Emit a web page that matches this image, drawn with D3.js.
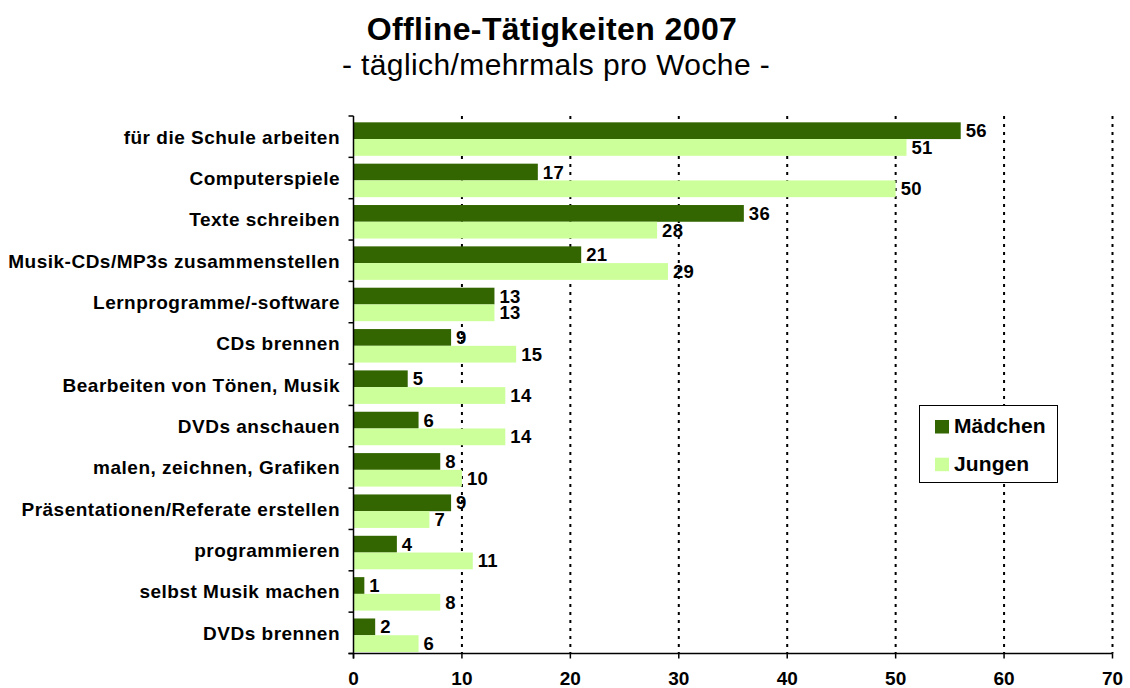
<!DOCTYPE html>
<html><head><meta charset="utf-8">
<script src="https://cdn.jsdelivr.net/npm/d3@7"></script>
<style>body{margin:0;background:#fff;} svg{display:block;font-family:"Liberation Sans",Arial,sans-serif;}</style>
</head><body>
<svg id="c" width="1130" height="688"></svg>
<script>
const categories = ["für die Schule arbeiten","Computerspiele","Texte schreiben","Musik-CDs/MP3s zusammenstellen","Lernprogramme/-software","CDs brennen","Bearbeiten von Tönen, Musik","DVDs anschauen","malen, zeichnen, Grafiken","Präsentationen/Referate erstellen","programmieren","selbst Musik machen","DVDs brennen"];
const maedchen = [56,17,36,21,13,9,5,6,8,9,4,1,2];
const jungen = [51,50,28,29,13,15,14,14,10,7,11,8,6];
const seriesNames = ["Mädchen","Jungen"];
const xTicks = [0,10,20,30,40,50,60,70];
const colors = ["#336600","#CCFF99"];

const svg = d3.select("#c");
const L = 353.5, R = 1112.5, T = 116, B = 653.5;
const x = d3.scaleLinear().domain([0,70]).range([L,R]);
const y = d3.scaleBand().domain(categories).range([T,B]);
const bw = y.bandwidth();
const barH = bw*0.405, off = bw*0.153;

// gridlines
svg.append("g").selectAll("line").data(xTicks.filter(d=>d>0)).join("line")
  .attr("x1",d=>x(d)).attr("x2",d=>x(d)).attr("y1",T).attr("y2",B)
  .attr("stroke","#000").attr("stroke-width",2).attr("stroke-dasharray","3,5");

// bars
const rows = categories.map((c,i)=>({c, v:[maedchen[i],jungen[i]]}));
const g = svg.append("g");
rows.forEach(r=>{
  r.v.forEach((v,k)=>{
    const yy = y(r.c)+off+k*barH;
    g.append("rect").attr("x",x(0)).attr("y",yy).attr("width",x(v)-x(0)).attr("height",barH).attr("fill",colors[k]);
    g.append("text").attr("x",x(v)+5).attr("y",yy+barH/2).attr("dy","0.35em")
      .attr("font-size",18.5).attr("letter-spacing",0.3).attr("font-weight","bold").attr("fill","#000").text(v);
  });
});

// axes
const ax = svg.append("g").attr("stroke","#000").attr("stroke-width",1.5);
ax.append("line").attr("x1",L).attr("x2",L).attr("y1",T).attr("y2",B+5);
ax.append("line").attr("x1",L-5).attr("x2",R).attr("y1",B).attr("y2",B);
const bounds = categories.map(c=>y(c)).concat([B]);
ax.selectAll(".yt").data(bounds).join("line").attr("x1",L-5).attr("x2",L).attr("y1",d=>d).attr("y2",d=>d);
ax.selectAll(".xt").data(xTicks).join("line").attr("x1",d=>x(d)).attr("x2",d=>x(d)).attr("y1",B).attr("y2",B+5);

svg.append("g").selectAll("text").data(xTicks).join("text")
  .attr("x",d=>x(d)).attr("y",685).attr("text-anchor","middle")
  .attr("font-size",19).attr("font-weight","bold").text(d=>d);

svg.append("g").selectAll("text").data(categories).join("text")
  .attr("x",340).attr("y",d=>y(d)+bw/2).attr("dy","0.36em").attr("text-anchor","end")
  .attr("font-size",19).attr("letter-spacing",0.5).attr("font-weight","bold").text(d=>d);

// title
svg.append("text").attr("x",552).attr("y",40).attr("text-anchor","middle")
  .attr("font-size",32).attr("letter-spacing",0.4).attr("font-weight","bold").text("Offline-Tätigkeiten 2007");
svg.append("text").attr("x",556).attr("y",75).attr("text-anchor","middle")
  .attr("font-size",30).attr("letter-spacing",0.4).text("- täglich/mehrmals pro Woche -");

// legend
const lg = svg.append("g");
lg.append("rect").attr("x",919.5).attr("y",405.5).attr("width",138).attr("height",77)
  .attr("fill","#fff").attr("stroke","#000").attr("stroke-width",1);
seriesNames.forEach((n,k)=>{
  lg.append("rect").attr("x",935).attr("y",420+k*37.7).attr("width",14).attr("height",13.5).attr("fill",colors[k]);
  lg.append("text").attr("x",954).attr("y",433+k*38).attr("font-size",21).attr("letter-spacing",0.1).attr("font-weight","bold").text(n);
});
</script>
</body></html>
